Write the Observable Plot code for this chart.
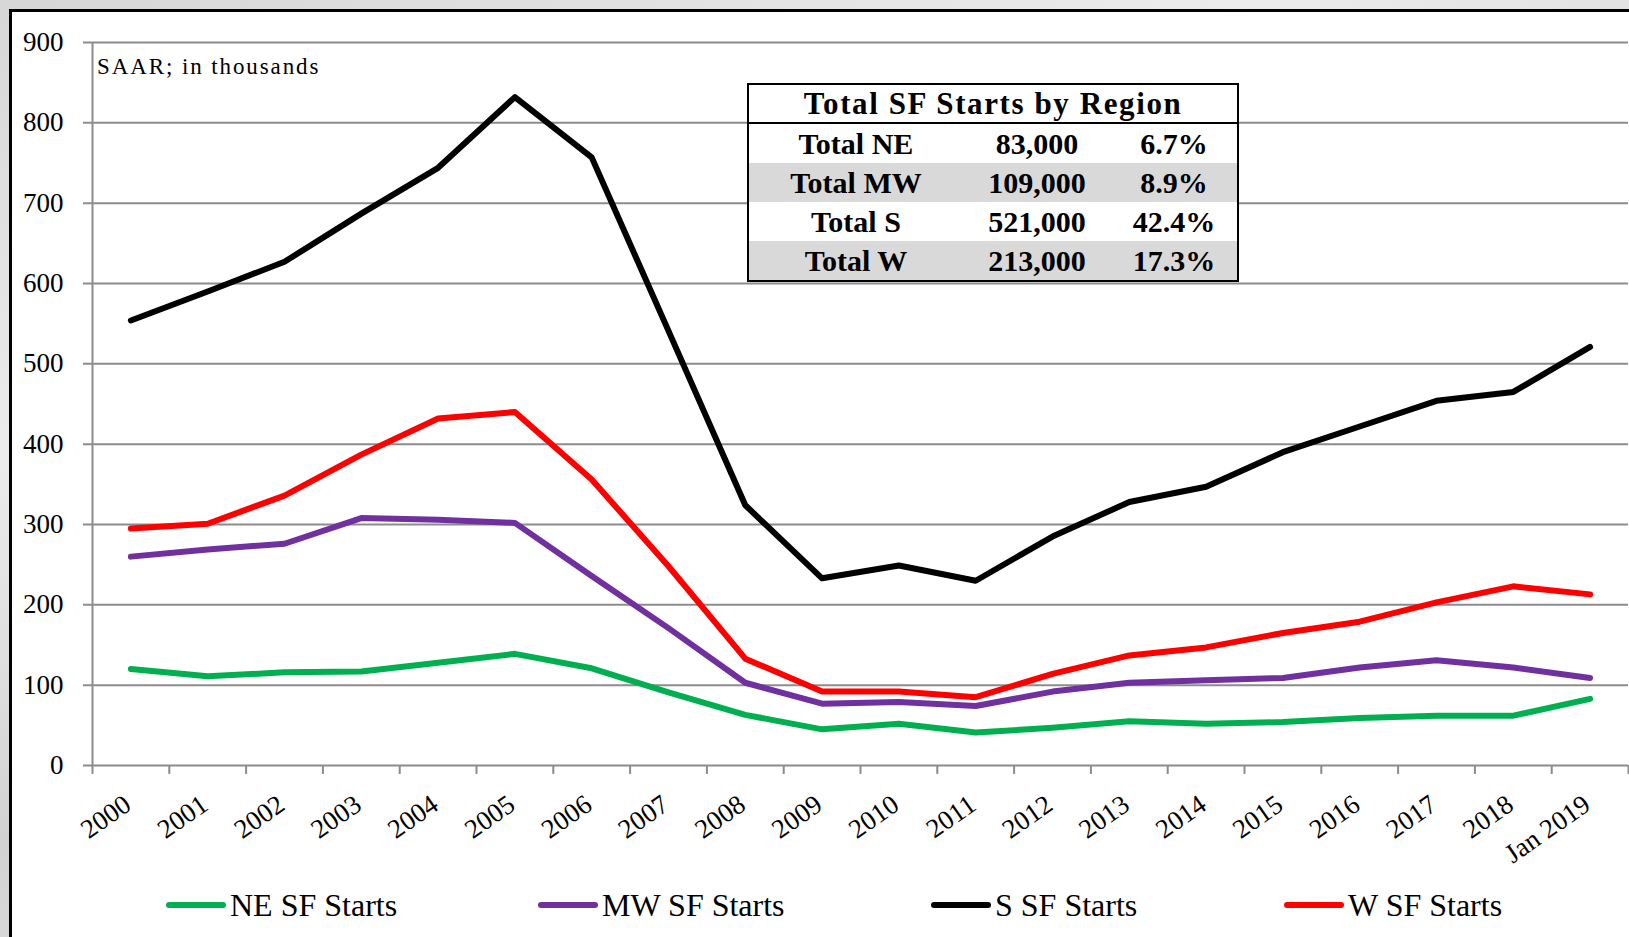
<!DOCTYPE html>
<html>
<head>
<meta charset="utf-8">
<script src="https://cdn.jsdelivr.net/npm/d3@7"></script>
<script src="https://cdn.jsdelivr.net/npm/@observablehq/plot@0.6"></script>
<style>
  html, body { margin: 0; padding: 0; }
  body {
    width: 1629px; height: 937px; overflow: hidden; position: relative;
    background: linear-gradient(160deg, #d6d6d6 0%, #ececec 30%, #d2d2d2 55%, #e6e6e6 80%, #d9d9d9 100%);
    font-family: 'Liberation Serif', 'Times New Roman', serif;
  }
  #frame {
    position: absolute; left: 9px; top: 9px; width: 1640px; height: 950px;
    background: #fff; border-left: 3px solid #000; border-top: 3px solid #000;
  }
  #chart { position: absolute; left: 0; top: 0; }
  #chart svg { overflow: visible; }
  #saar {
    position: absolute; left: 97px; top: 53px; font-size: 23px; letter-spacing: 1.9px;
    color: #000; white-space: nowrap; line-height: 28px;
  }
  #tbl {
    position: absolute; left: 747px; top: 83px; width: 492px; height: 199px;
    box-sizing: border-box; border: 2px solid #000; background: #fff;
    font-weight: bold; color: #000;
  }
  #tbl .head {
    height: 37px; border-bottom: 2px solid #000; text-align: center;
    font-size: 31px; letter-spacing: 1.6px; line-height: 37px; white-space: nowrap;
  }
  #tbl .row { height: 39px; display: flex; font-size: 30px; line-height: 39px; white-space: nowrap; }
  #tbl .row.alt { background: #d9d9d9; }
  #tbl .c1 { width: 214px; text-align: center; }
  #tbl .c2 { width: 148px; text-align: center; }
  #tbl .c3 { width: 126px; text-align: center; }
  #legend { position: absolute; left: 0; top: 880px; width: 1629px; height: 50px; }
  #legend .item { position: absolute; top: 0; height: 50px; display: flex; align-items: center; }
  #legend .swatch { width: 60px; height: 6px; border-radius: 3px; margin-right: 4px; }
  #legend .lab { font-size: 32px; color: #000; white-space: nowrap; line-height: 44px; }
</style>
</head>
<body>
<div id="frame"></div>
<div id="chart"></div>
<div id="saar"></div>
<div id="tbl"></div>
<div id="legend"></div>
<script>
// ---- Data ----
const categories = ["2000","2001","2002","2003","2004","2005","2006","2007","2008","2009",
  "2010","2011","2012","2013","2014","2015","2016","2017","2018","Jan 2019"];
const neStarts = [120,111,116,117,128,139,121,91,63,45,52,41,47,55,52,54,59,62,62,83];
const mwStarts = [260,269,276,308,306,302,236,171,103,77,79,74,92,103,106,109,122,131,122,109];
const sStarts  = [554,590,627,687,744,832,757,541,324,233,249,230,285,328,347,390,422,454,465,521];
const wStarts  = [295,301,336,387,432,440,356,248,133,92,92,85,114,137,147,165,179,203,223,213];
const seriesNames = ["NE SF Starts","MW SF Starts","S SF Starts","W SF Starts"];
const seriesColors = ["#00B050","#7030A0","#000000","#FF0000"];
const yTicks = [0,100,200,300,400,500,600,700,800,900];
const unitNote = "SAAR; in thousands";
const tableTitle = "Total SF Starts by Region";
const tableRegions = ["Total NE","Total MW","Total S","Total W"];
const tableTotals = ["83,000","109,000","521,000","213,000"];
const tableShares = ["6.7%","8.9%","42.4%","17.3%"];

// ---- Build rows ----
const seriesValues = [neStarts, mwStarts, sStarts, wStarts];
const rows = [];
seriesNames.forEach((name, s) => {
  seriesValues[s].forEach((v, i) => rows.push({x: i + 0.5, value: v, series: name}));
});

const grid = "#8c8c8c";
const chart = Plot.plot({
  width: 1629,
  height: 870,
  marginLeft: 92,
  marginRight: 1,
  marginTop: 42,
  marginBottom: 105,
  x: {type: "linear", domain: [0, categories.length], axis: null},
  y: {domain: [0, 900], axis: null},
  color: {domain: seriesNames, range: seriesColors},
  style: {
    fontFamily: "'Liberation Serif', 'Times New Roman', serif",
    background: "transparent",
    overflow: "visible",
    color: "#000"
  },
  marks: [
    Plot.ruleY(yTicks, {stroke: grid, strokeWidth: 2, insetLeft: -9}),
    Plot.ruleX(d3.range(categories.length + 1), {y1: 0, y2: 0, insetBottom: -9, stroke: grid, strokeWidth: 2}),
    Plot.ruleX([0], {stroke: grid, strokeWidth: 2}),
    Plot.line(rows, {x: "x", y: "value", z: "series", stroke: "series", strokeWidth: 6,
      strokeLinejoin: "round", strokeLinecap: "round"}),
    Plot.text(yTicks, {x: 0, y: d => d, text: d => String(d), textAnchor: "end", dx: -29,
      fontSize: 27, fill: "#000"}),
    Plot.text(categories, {x: (d, i) => i + 0.5, y: 0, text: d => d, rotate: -35,
      textAnchor: "end", lineAnchor: "bottom", dx: 2, dy: 43, fontSize: 27, fill: "#000"})
  ]
});
document.getElementById("chart").appendChild(chart);

// ---- Unit note ----
document.getElementById("saar").textContent = unitNote;

// ---- Summary table ----
const tbl = d3.select("#tbl");
tbl.append("div").attr("class", "head").text(tableTitle);
tableRegions.forEach((r, i) => {
  const row = tbl.append("div").attr("class", "row" + (i % 2 === 1 ? " alt" : ""));
  row.append("div").attr("class", "c1").text(r);
  row.append("div").attr("class", "c2").text(tableTotals[i]);
  row.append("div").attr("class", "c3").text(tableShares[i]);
});

// ---- Legend ----
const legendLeft = [166, 538, 931, 1284];
const leg = d3.select("#legend");
seriesNames.forEach((name, i) => {
  const it = leg.append("div").attr("class", "item").style("left", legendLeft[i] + "px");
  it.append("div").attr("class", "swatch").style("background", seriesColors[i]);
  it.append("div").attr("class", "lab").text(name);
});
</script>
</body>
</html>
